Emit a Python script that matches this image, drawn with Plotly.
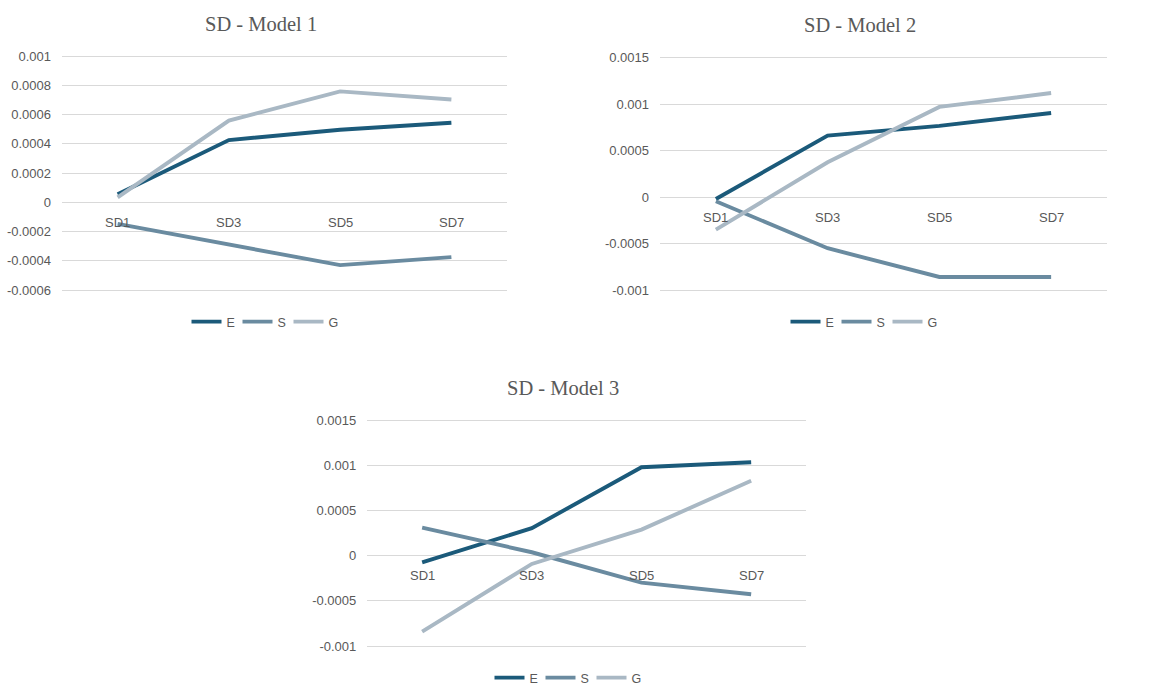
import plotly.graph_objects as go

# Categories and series values for the three models
categories = ["SD1", "SD3", "SD5", "SD7"]
series_names = ["E", "S", "G"]

model1_E = [0.000055, 0.000425, 0.000496, 0.000544]
model1_S = [-0.000148, -0.000289, -0.000430, -0.000375]
model1_G = [0.000034, 0.000558, 0.000758, 0.000703]

model2_E = [-0.000018, 0.000662, 0.000767, 0.000906]
model2_S = [-0.000043, -0.000548, -0.000857, -0.000857]
model2_G = [-0.000348, 0.000376, 0.000971, 0.001120]

model3_E = [-0.000074, 0.000303, 0.000978, 0.001033]
model3_S = [0.000310, 0.000037, -0.000299, -0.000428]
model3_G = [-0.000841, -0.000092, 0.000288, 0.000827]

titles = ["SD - Model 1", "SD - Model 2", "SD - Model 3"]

# Y tick values / labels per chart
ticks1 = [-0.0006, -0.0004, -0.0002, 0, 0.0002, 0.0004, 0.0006, 0.0008, 0.001]
ticklabels1 = ["-0.0006", "-0.0004", "-0.0002", "0", "0.0002", "0.0004", "0.0006", "0.0008", "0.001"]
ticks23 = [-0.001, -0.0005, 0, 0.0005, 0.001, 0.0015]
ticklabels23 = ["-0.001", "-0.0005", "0", "0.0005", "0.001", "0.0015"]

colors = {"E": "#1b5a7a", "S": "#6a8ba0", "G": "#a9b8c4"}
W, H = 1167, 686
GRAY = "#595959"
PAD = 3  # px of headroom so the outer grid lines are drawn

charts = [
    dict(data=[model1_E, model1_S, model1_G], ticks=ticks1, labels=ticklabels1,
         x0=62, x1=507, ytop=56, ybot=290, title_xy=(261, 24), legend_y=322, legend_x=263),
    dict(data=[model2_E, model2_S, model2_G], ticks=ticks23, labels=ticklabels23,
         x0=660, x1=1107, ytop=57.7, ybot=290.3, title_xy=(860, 25), legend_y=322, legend_x=862),
    dict(data=[model3_E, model3_S, model3_G], ticks=ticks23, labels=ticklabels23,
         x0=367.3, x1=806, ytop=420, ybot=646, title_xy=(563, 388), legend_y=678, legend_x=566),
]

fig = go.Figure()
layout = dict(
    template="none",
    width=W, height=H, margin=dict(l=0, r=0, t=0, b=0, autoexpand=False),
    paper_bgcolor="white", plot_bgcolor="white",
    font=dict(family="Liberation Sans, Arial, sans-serif", size=12, color=GRAY),
    annotations=[], showlegend=True,
)

for i, ch in enumerate(charts):
    n = "" if i == 0 else str(i + 1)
    xa, ya = "x" + n, "y" + n
    leg = "legend" if i == 0 else "legend" + str(i + 1)
    for name, vals in zip(series_names, ch["data"]):
        fig.add_trace(go.Scatter(
            x=categories, y=vals, name=name, mode="lines",
            line=dict(color=colors[name], width=3.9),
            xaxis=xa, yaxis=ya, legend=leg, hoverinfo="x+y+name",
        ))
    lo, hi = ch["ticks"][0], ch["ticks"][-1]
    per_px = (hi - lo) / (ch["ybot"] - ch["ytop"])
    layout["xaxis" + n] = dict(
        domain=[ch["x0"] / W, ch["x1"] / W], anchor=ya,
        showticklabels=False, showgrid=False, zeroline=False, showline=False,
        range=[-0.5, len(categories) - 0.5], fixedrange=True, automargin=False,
    )
    layout["yaxis" + n] = dict(
        domain=[1 - (ch["ybot"] + PAD) / H, 1 - (ch["ytop"] - PAD) / H], anchor=xa,
        range=[lo - PAD * per_px, hi + PAD * per_px],
        tickvals=ch["ticks"], ticktext=ch["labels"],
        showgrid=True, gridcolor="#d9d9d9", gridwidth=1.3,
        zeroline=False, showline=False, ticks="", ticklabelstandoff=10,
        tickfont=dict(size=13, color=GRAY), automargin=False,
    )
    layout[leg] = dict(
        orientation="h", x=ch["legend_x"] / W, y=1 - ch["legend_y"] / H,
        xanchor="center", yanchor="middle", bgcolor="rgba(0,0,0,0)",
        font=dict(size=12.5, color=GRAY), itemwidth=30, tracegroupgap=0,
        entrywidth=6,
    )
    # Chart title
    tx, ty = ch["title_xy"]
    layout["annotations"].append(dict(
        text=titles[i], x=tx / W, y=1 - ty / H, xref="paper", yref="paper",
        xanchor="center", yanchor="middle", showarrow=False,
        font=dict(family="Liberation Serif, Times New Roman, serif", size=20.5, color=GRAY),
    ))
    # Category labels sit just below the zero line
    for c in categories:
        layout["annotations"].append(dict(
            text=c, x=c, y=0, xref=xa, yref=ya, xanchor="center", yanchor="middle",
            yshift=-20, showarrow=False, font=dict(size=13, color=GRAY),
        ))

fig.update_layout(**layout)
fig.write_html("out.html")
